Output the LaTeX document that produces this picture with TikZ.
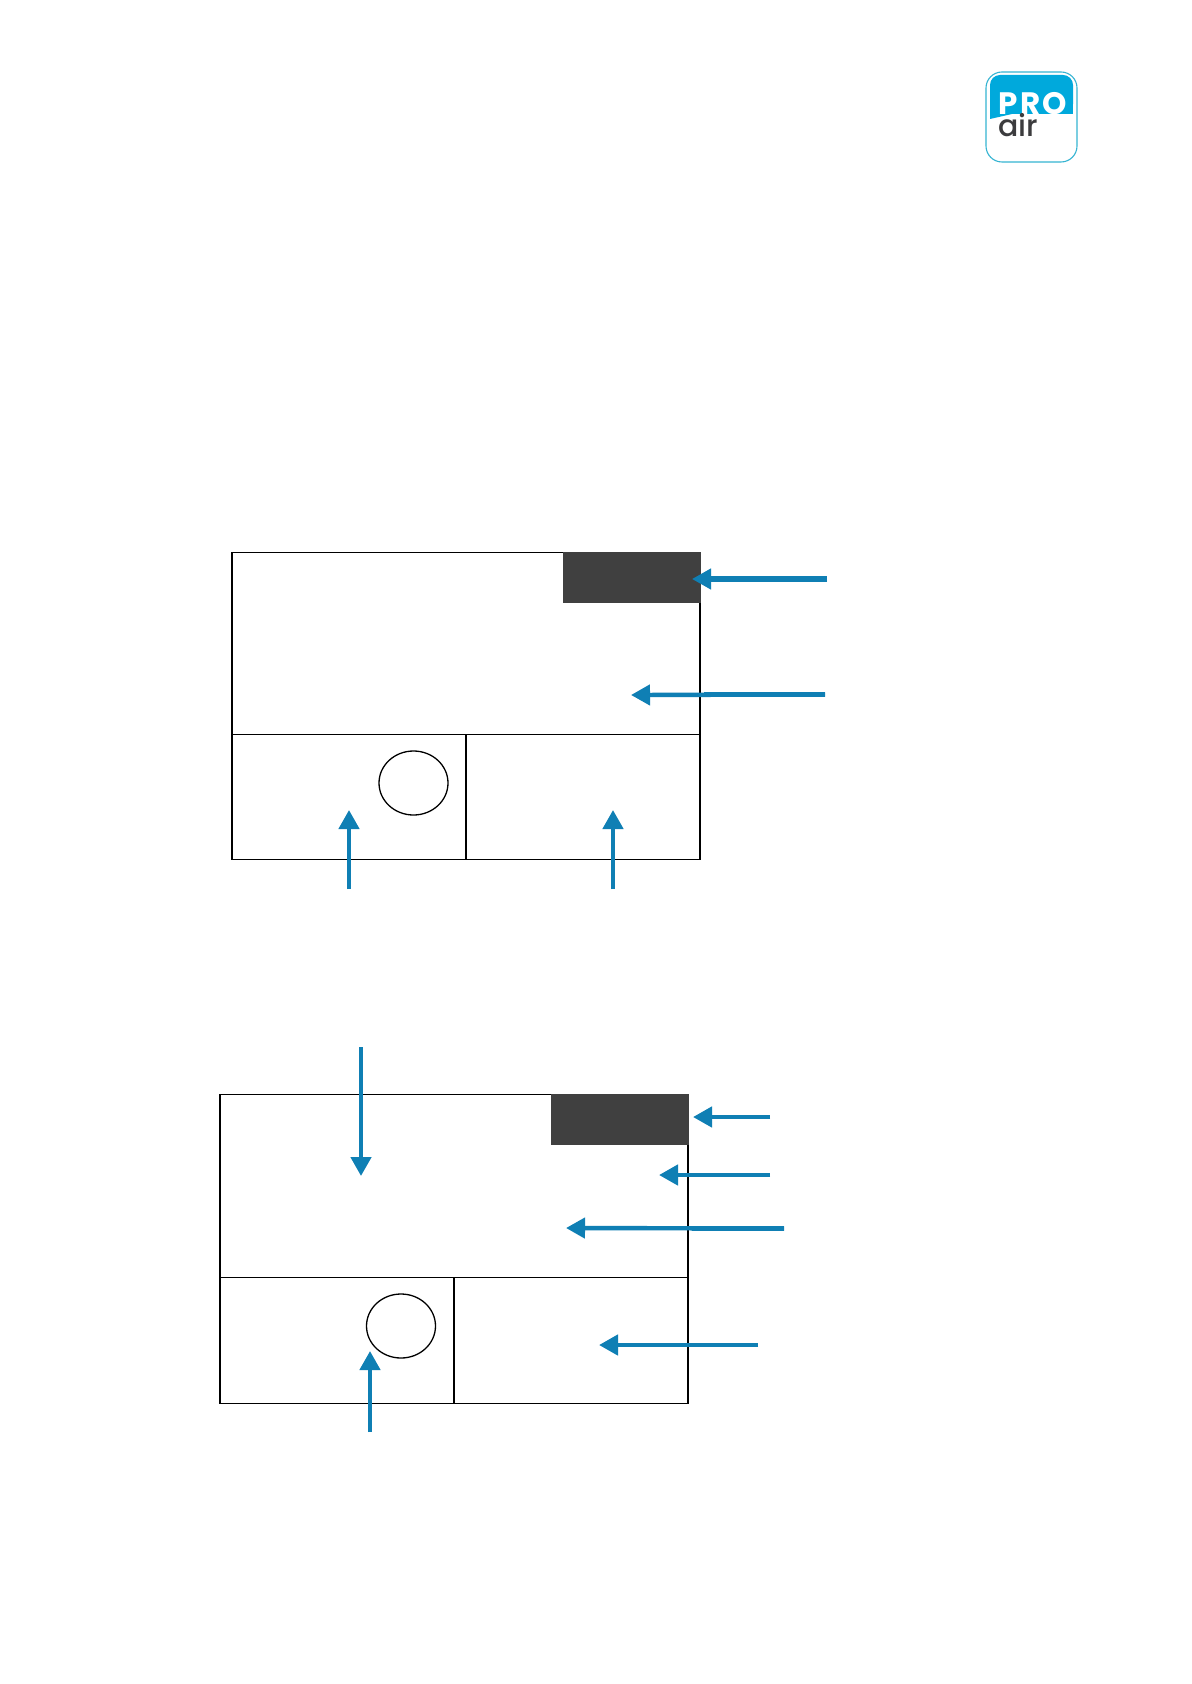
\documentclass[tikz,border=0pt]{standalone}
\usepackage{xcolor}
\usepackage{fontspec}
\newfontfamily\logofont{Poppins}
\newfontfamily\logoairfont{Poppins Medium}
\usetikzlibrary{arrows.meta,calc,positioning,shapes.geometric}
\definecolor{ArrowBlue}{HTML}{0F7FB4}
\definecolor{PanelDark}{HTML}{404040}
\definecolor{LogoCyan}{HTML}{00A9DC}
\definecolor{LogoEdge}{HTML}{35B4D2}
\definecolor{LogoText}{HTML}{3C3C3E}
\tikzset{
    callout/.style={ArrowBlue, line width=2.2pt, -{Triangle[length=9.5pt,width=10pt]}},
    calloutover/.style={ArrowBlue, line width=2.8pt},
    panelline/.style={black, line width=0.85pt},
    knob/.style={draw=black, line width=0.65pt, ellipse, inner sep=0pt, minimum width=34.5pt, minimum height=32pt},
    darkbox/.style={fill=PanelDark, inner sep=0pt, minimum width=69pt, minimum height=25.5pt},
}
\begin{document}
\begin{tikzpicture}[x=0.5pt,y=-0.5pt]
        \useasboundingbox (0,0) rectangle (1191,1684);
        \fill[white] (0,0) rectangle (1191,1684);

        % logo
        \draw[LogoEdge, line width=0.55pt, rounded corners=8pt] (986,72) rectangle (1077,162);
        \fill[LogoCyan, rounded corners=5pt] (990,119) -- (990,75) -- (1073,75) -- (1073,114) -- (1012,114);
        \fill[LogoCyan] (990,119) .. controls (993,115) and (998,113.5) .. (1004,113.5) -- (1004,100) -- (990,100) -- cycle;
        \fill[LogoCyan] (1000,100) rectangle (1073,114);
        \node[anchor=base west, inner sep=0pt, text=white] (logoPro) at (998.5,115) {\logofont\bfseries\fontsize{15.5}{15.5}\selectfont P\kern1pt R\kern0.9pt O};
        \node[anchor=base west, inner sep=0pt, text=LogoText] (logoAir) at (998,137) {\logoairfont\fontsize{15}{15}\selectfont air};

        % upper panel
        \draw[panelline] (232,552.5) rectangle (700,859.5);
        \draw[panelline] (232,734.5) -- (700,734.5);
        \draw[panelline] (466,734.5) -- (466,859.5);
        \node[darkbox] (upperDark) at (632,577.5) {};
        \node[knob] (upperKnob) at (413.5,783) {};

        \coordinate (upperA) at (827,579);
        \coordinate (upperAtip) at (692,579);
        \coordinate (upperAmid) at (710,579);
        \coordinate (upperB) at (825,694.5);
        \coordinate (upperBtip) at (631,695);
        \coordinate (upperBmid) at (704,694.5);
        \coordinate (upperC) at (349,889);
        \coordinate (upperCtip) at (349,810);
        \coordinate (upperD) at (613,889);
        \coordinate (upperDtip) at (613,810);
        \draw[callout] (upperA) -- (upperAtip);
        \draw[calloutover] (upperA) -- (upperAmid);
        \draw[callout] (upperB) -- (upperBtip);
        \draw[calloutover] (upperB) -- (upperBmid);
        \draw[callout] (upperC) -- (upperCtip);
        \draw[callout] (upperD) -- (upperDtip);

        % lower panel
        \draw[panelline] (220,1094.5) rectangle (688,1403.5);
        \draw[panelline] (220,1277.5) -- (688,1277.5);
        \draw[panelline] (454,1277.5) -- (454,1403.5);
        \node[darkbox] (lowerDark) at (620,1119.5) {};
        \node[knob] (lowerKnob) at (401,1326) {};

        \coordinate (lowerA) at (770,1117);
        \coordinate (lowerAtip) at (693,1117);
        \coordinate (lowerB) at (770,1175);
        \coordinate (lowerBtip) at (659,1175);
        \coordinate (lowerC) at (784,1228.5);
        \coordinate (lowerCtip) at (566,1228);
        \coordinate (lowerCmid) at (692,1228.5);
        \coordinate (lowerD) at (758,1345);
        \coordinate (lowerDtip) at (599,1345);
        \coordinate (lowerE) at (361,1047);
        \coordinate (lowerEtip) at (361,1176);
        \coordinate (lowerF) at (370,1432);
        \coordinate (lowerFtip) at (370,1351);
        \draw[callout] (lowerA) -- (lowerAtip);
        \draw[callout] (lowerB) -- (lowerBtip);
        \draw[callout] (lowerC) -- (lowerCtip);
        \draw[calloutover] (lowerC) -- (lowerCmid);
        \draw[callout] (lowerD) -- (lowerDtip);
        \draw[callout] (lowerE) -- (lowerEtip);
        \draw[callout] (lowerF) -- (lowerFtip);
    \end{tikzpicture}
\end{document}
